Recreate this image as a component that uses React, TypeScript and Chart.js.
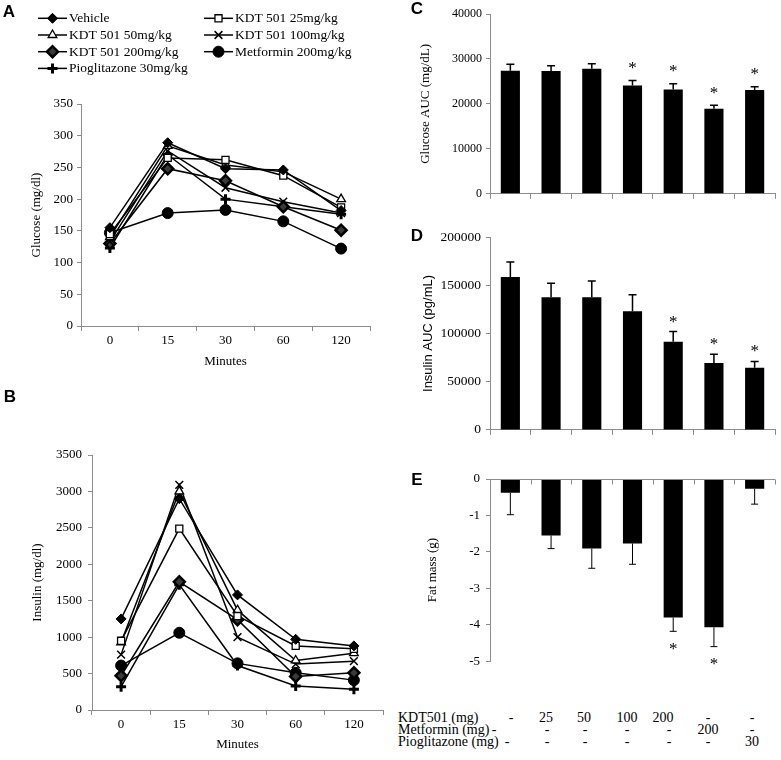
import React, { useEffect, useRef } from 'react';
import { Chart, registerables } from 'chart.js';
import { drawPoint } from 'chart.js/helpers';

Chart.register(...registerables);

const SERIF = '"Liberation Serif", "Times New Roman", serif';
const SANS = '"Liberation Sans", Arial, sans-serif';
const AXIS = '#8c8c8c';

// ---------- Data ----------
const timeLabels = ['0', '15', '30', '60', '120'];
const seriesNames = [
  'Vehicle',
  'KDT 501 25mg/kg',
  'KDT 501 50mg/kg',
  'KDT 501 100mg/kg',
  'KDT 501 200mg/kg',
  'Metformin 200mg/kg',
  'Pioglitazone 30mg/kg',
];

const glucoseVehicle = [155, 289, 248, 246, 182];
const glucoseKdt25 = [145, 265, 262, 237, 187];
const glucoseKdt50 = [140, 284, 254, 243, 200];
const glucoseKdt100 = [133, 276, 218, 196, 178];
const glucoseKdt200 = [130, 248, 229, 188, 151];
const glucoseMetformin = [147, 178, 183, 165, 122];
const glucosePioglitazone = [123, 270, 200, 188, 176];

const insulinVehicle = [1250, 2900, 1580, 970, 880];
const insulinKdt25 = [950, 2490, 1290, 880, 840];
const insulinKdt50 = [930, 3000, 1370, 680, 780];
const insulinKdt100 = [760, 3090, 1000, 630, 670];
const insulinKdt200 = [470, 1760, 1240, 460, 510];
const insulinMetformin = [610, 1060, 640, 510, 410];
const insulinPioglitazone = [320, 1720, 610, 330, 285];

const groups = ['Vehicle', 'KDT501 25', 'KDT501 50', 'KDT501 100', 'KDT501 200', 'Metformin 200', 'Pioglitazone 30'];

const glucoseAUC = [27400, 27300, 27800, 24100, 23200, 18900, 23100];
const glucoseAUCErr = [1400, 1200, 1150, 1100, 1300, 800, 700];
const glucoseAUCSig = [false, false, false, true, true, true, true];

const insulinAUC = [158500, 137500, 137500, 123000, 91500, 69300, 64500];
const insulinAUCErr = [15500, 14500, 17000, 17000, 10500, 9200, 6500];
const insulinAUCSig = [false, false, false, false, true, true, true];

const fatMass = [-0.38, -1.55, -1.91, -1.77, -3.8, -4.07, -0.27];
const fatMassErr = [0.6, 0.36, 0.54, 0.57, 0.38, 0.53, 0.42];
const fatMassSig = [false, false, false, false, true, true, false];

const tableRowLabels = ['KDT501 (mg)', 'Metformin (mg)', 'Pioglitazone (mg)'];
const tableKdt501 = ['-', '25', '50', '100', '200', '-', '-'];
const tableMetformin = ['-', '-', '-', '-', '-', '200', '-'];
const tablePioglitazone = ['-', '-', '-', '-', '-', '-', '30'];

// ---------- Styles ----------
const markerStyles = [
  { pointStyle: 'rectRot', radius: 5, bg: '#000', bw: 1 },
  { pointStyle: 'rect', radius: 5, bg: '#fff', bw: 1.3 },
  { pointStyle: 'triangle', radius: 5, bg: '#fff', bw: 1.3 },
  { pointStyle: 'crossRot', radius: 5.5, bg: '#000', bw: 1.5 },
  { pointStyle: 'rectRot', radius: 5.5, bg: '#3a3a3a', bw: 2.5 },
  { pointStyle: 'circle', radius: 5.5, bg: '#000', bw: 1 },
  { pointStyle: 'cross', radius: 5, bg: '#000', bw: 3 },
];

function lineDatasets(series: number[][]) {
  return series.map((data, i) => ({
    label: seriesNames[i],
    data,
    borderColor: '#000',
    borderWidth: 1.5,
    tension: 0,
    fill: false,
    pointStyle: markerStyles[i].pointStyle,
    pointRadius: markerStyles[i].radius,
    pointBackgroundColor: markerStyles[i].bg,
    pointBorderColor: '#000',
    pointBorderWidth: markerStyles[i].bw,
  }));
}

function yScale(o: {
  min: number; max: number; step: number; title: string; titleFamily: string;
  titleCenter: number; tickSize: number; tickPad: number; width: number;
}) {
  return {
    type: 'linear',
    min: o.min,
    max: o.max,
    afterFit: (s: any) => { s.width = o.width; },
    border: { display: true, color: AXIS, width: 1 },
    grid: { drawOnChartArea: false, drawTicks: true, tickLength: 4, color: AXIS },
    ticks: {
      stepSize: o.step,
      padding: o.tickPad,
      color: '#000',
      font: { family: SERIF, size: o.tickSize },
      callback: (v: any) => String(v),
    },
    title: {
      display: true,
      text: o.title,
      color: '#000',
      font: { family: o.titleFamily, size: 13 },
      padding: { top: o.titleCenter - 7.8, bottom: 0 },
    },
  };
}

function lineX(height: number, titleBottomPad: number) {
  return {
    type: 'category',
    offset: true,
    afterFit: (s: any) => { s.height = height; },
    border: { display: true, color: AXIS, width: 1 },
    grid: { offset: true, drawOnChartArea: false, tickLength: 5, color: AXIS },
    ticks: { padding: 2, color: '#000', font: { family: SERIF, size: 13 }, maxRotation: 0, autoSkip: false },
    title: {
      display: true,
      text: 'Minutes',
      color: '#000',
      font: { family: SERIF, size: 13 },
      padding: { top: 0, bottom: titleBottomPad },
    },
  };
}

function barX(height: number) {
  return {
    type: 'category',
    offset: true,
    afterFit: (s: any) => { s.height = height; },
    border: { display: true, color: AXIS, width: 1 },
    grid: { offset: true, drawOnChartArea: false, tickLength: 5, color: AXIS },
    ticks: { callback: () => '', autoSkip: false },
  };
}

const legendPlugin = {
  id: 'customLegend',
  afterDraw(chart: any) {
    const ctx = chart.ctx;
    const colX = [38, 204];
    const rowY0 = 18.3;
    const rowH = 16.7;
    ctx.save();
    chart.data.datasets.forEach((ds: any, i: number) => {
      const x0 = colX[i % 2];
      const y = rowY0 + Math.floor(i / 2) * rowH;
      ctx.strokeStyle = '#000';
      ctx.lineWidth = 1.5;
      ctx.beginPath();
      ctx.moveTo(x0, y);
      ctx.lineTo(x0 + 29, y);
      ctx.stroke();
      ctx.fillStyle = ds.pointBackgroundColor;
      ctx.strokeStyle = '#000';
      ctx.lineWidth = ds.pointBorderWidth;
      drawPoint(ctx, { pointStyle: ds.pointStyle, radius: ds.pointRadius, rotation: 0, borderWidth: ds.pointBorderWidth } as any, x0 + 14.5, y);
      ctx.fillStyle = '#000';
      ctx.font = `13.5px ${SERIF}`;
      ctx.textAlign = 'left';
      ctx.textBaseline = 'middle';
      ctx.fillText(ds.label, x0 + 31, y + 0.5);
    });
    ctx.restore();
  },
};

function errorBarPlugin(errs: number[], sig: boolean[], capHalf: number, lw: number, starGap: number) {
  return {
    id: 'errorBars',
    afterDatasetsDraw(chart: any) {
      const ctx = chart.ctx;
      const y = chart.scales.y;
      const meta = chart.getDatasetMeta(0);
      const vals = chart.data.datasets[0].data as number[];
      ctx.save();
      ctx.strokeStyle = '#000';
      ctx.lineWidth = lw;
      meta.data.forEach((bar: any, i: number) => {
        const v = vals[i];
        const dir = v >= 0 ? 1 : -1;
        const yv = y.getPixelForValue(v);
        const ye = y.getPixelForValue(v + dir * errs[i]);
        const x = bar.x;
        ctx.beginPath();
        ctx.moveTo(x, yv);
        ctx.lineTo(x, ye);
        ctx.moveTo(x - capHalf, ye);
        ctx.lineTo(x + capHalf, ye);
        ctx.stroke();
        if (sig[i]) {
          const size = 17;
          ctx.fillStyle = '#000';
          ctx.font = `${size}px ${SERIF}`;
          ctx.textAlign = 'center';
          ctx.textBaseline = 'alphabetic';
          const cy = dir > 0 ? ye - starGap : ye + starGap;
          ctx.fillText('*', x, cy + 0.47 * size);
        }
      });
      ctx.restore();
    },
  };
}

const zeroAxisPlugin = {
  id: 'zeroAxis',
  afterDatasetsDraw(chart: any) {
    const ctx = chart.ctx;
    const { left, right } = chart.chartArea;
    const y0 = Math.round(chart.scales.y.getPixelForValue(0)) + 0.5;
    const n = chart.data.labels.length;
    ctx.save();
    ctx.strokeStyle = AXIS;
    ctx.lineWidth = 1;
    ctx.beginPath();
    ctx.moveTo(left, y0);
    ctx.lineTo(right, y0);
    for (let i = 1; i <= n; i++) {
      const x = Math.round(left + ((right - left) * i) / n) + 0.5;
      ctx.moveTo(x, y0);
      ctx.lineTo(x, y0 + 5);
    }
    ctx.stroke();
    ctx.restore();
  },
};

const barDataset = (data: number[]) => ({
  data,
  backgroundColor: '#000',
  borderWidth: 0,
  barPercentage: 0.47,
  categoryPercentage: 1,
});

const baseOptions = {
  responsive: false,
  animation: false,
  devicePixelRatio: 1,
  plugins: { legend: { display: false }, tooltip: { enabled: false } },
};

type Box = { left: number; top: number; width: number; height: number };
const boxA: Box = { left: 0, top: 0, width: 390, height: 375 };
const boxB: Box = { left: 0, top: 380, width: 395, height: 375 };
const boxC: Box = { left: 390, top: 0, width: 391, height: 205 };
const boxD: Box = { left: 390, top: 215, width: 391, height: 228 };
const boxE: Box = { left: 390, top: 465, width: 391, height: 210 };

export default function App() {
  const refA = useRef<HTMLCanvasElement>(null);
  const refB = useRef<HTMLCanvasElement>(null);
  const refC = useRef<HTMLCanvasElement>(null);
  const refD = useRef<HTMLCanvasElement>(null);
  const refE = useRef<HTMLCanvasElement>(null);

  useEffect(() => {
    const charts: Chart[] = [];

    charts.push(new Chart(refA.current!, {
      type: 'line',
      data: {
        labels: timeLabels,
        datasets: lineDatasets([glucoseVehicle, glucoseKdt25, glucoseKdt50, glucoseKdt100, glucoseKdt200, glucoseMetformin, glucosePioglitazone]) as any,
      },
      options: {
        ...baseOptions,
        layout: { padding: { left: 0, top: 104, right: 20, bottom: 0 } },
        scales: {
          x: lineX(49, 5.2),
          y: yScale({ min: 0, max: 350, step: 50, title: 'Glucose (mg/dl)', titleFamily: SERIF, titleCenter: 37, tickSize: 13, tickPad: 4, width: 81 }),
        },
      } as any,
      plugins: [legendPlugin],
    }));

    charts.push(new Chart(refB.current!, {
      type: 'line',
      data: {
        labels: timeLabels,
        datasets: lineDatasets([insulinVehicle, insulinKdt25, insulinKdt50, insulinKdt100, insulinKdt200, insulinMetformin, insulinPioglitazone]) as any,
      },
      options: {
        ...baseOptions,
        layout: { padding: { left: 0, top: 75, right: 12, bottom: 0 } },
        scales: {
          x: lineX(45, 2.2),
          y: yScale({ min: 0, max: 3500, step: 500, title: 'Insulin (mg/dl)', titleFamily: SERIF, titleCenter: 38, tickSize: 13, tickPad: 6, width: 92 }),
        },
      } as any,
    }));

    charts.push(new Chart(refC.current!, {
      type: 'bar',
      data: { labels: groups, datasets: [barDataset(glucoseAUC)] },
      options: {
        ...baseOptions,
        layout: { padding: { left: 0, top: 14, right: 6, bottom: 0 } },
        scales: {
          x: barX(10),
          y: yScale({ min: 0, max: 40000, step: 10000, title: 'Glucose AUC (mg/dL)', titleFamily: SERIF, titleCenter: 36, tickSize: 12, tickPad: 4, width: 100 }),
        },
      } as any,
      plugins: [errorBarPlugin(glucoseAUCErr, glucoseAUCSig, 4, 1.5, 15.5)],
    }));

    charts.push(new Chart(refD.current!, {
      type: 'bar',
      data: { labels: groups, datasets: [barDataset(insulinAUC)] },
      options: {
        ...baseOptions,
        layout: { padding: { left: 0, top: 22, right: 6, bottom: 0 } },
        scales: {
          x: barX(10),
          y: yScale({ min: 0, max: 200000, step: 50000, title: 'Insulin AUC (pg/mL)', titleFamily: SANS, titleCenter: 38, tickSize: 13.5, tickPad: 5, width: 100 }),
        },
      } as any,
      plugins: [errorBarPlugin(insulinAUCErr, insulinAUCSig, 4, 1.5, 13)],
    }));

    charts.push(new Chart(refE.current!, {
      type: 'bar',
      data: { labels: groups, datasets: [barDataset(fatMass)] },
      options: {
        ...baseOptions,
        layout: { padding: { left: 0, top: 14, right: 6, bottom: 12 } },
        scales: {
          x: { type: 'category', display: false, offset: true },
          y: yScale({ min: -5, max: 0, step: 1, title: 'Fat mass (g)', titleFamily: SERIF, titleCenter: 43, tickSize: 13, tickPad: 6, width: 100 }),
        },
      } as any,
      plugins: [zeroAxisPlugin, errorBarPlugin(fatMassErr, fatMassSig, 3.5, 1, 14.5)],
    }));

    return () => { charts.forEach((c) => c.destroy()); };
  }, []);

  const canvasStyle = (b: Box): React.CSSProperties => ({
    position: 'absolute', left: b.left, top: b.top, width: b.width, height: b.height,
  });

  const letter = (t: string, cx: number, cy: number) => (
    <div key={t} style={{
      position: 'absolute', left: cx - 10, top: cy - 10, width: 20, height: 20, lineHeight: '20px',
      textAlign: 'center', fontFamily: SANS, fontWeight: 'bold', fontSize: 17, color: '#000',
    }}>{t}</div>
  );

  const tableRows = [tableKdt501, tableMetformin, tablePioglitazone];
  const tableRowY = [717.7, 730, 741.7];
  const tableColX = [
    [511, 546, 584, 627, 663, 708, 752],
    [494, 547, 585, 627, 669, 708, 752],
    [507, 547, 585, 627, 669, 708, 752],
  ];

  return (
    <div style={{ position: 'absolute', left: 0, top: 0, width: 781, height: 760, background: '#fff', overflow: 'hidden' }}>
      <canvas ref={refA} width={boxA.width} height={boxA.height} style={canvasStyle(boxA)} />
      <canvas ref={refB} width={boxB.width} height={boxB.height} style={canvasStyle(boxB)} />
      <canvas ref={refC} width={boxC.width} height={boxC.height} style={canvasStyle(boxC)} />
      <canvas ref={refD} width={boxD.width} height={boxD.height} style={canvasStyle(boxD)} />
      <canvas ref={refE} width={boxE.width} height={boxE.height} style={canvasStyle(boxE)} />
      {letter('A', 9, 12)}
      {letter('B', 10, 397)}
      {letter('C', 417, 9)}
      {letter('D', 417, 236)}
      {letter('E', 417, 480)}
      {tableRowLabels.map((lab, r) => (
        <div key={'l' + r} style={{
          position: 'absolute', left: 398, top: tableRowY[r] - 8, height: 16, lineHeight: '16px',
          fontFamily: SERIF, fontSize: 14, color: '#000', whiteSpace: 'nowrap',
        }}>{lab}</div>
      ))}
      {tableRows.map((row, r) => row.map((val, c) => (
        <div key={'v' + r + '_' + c} style={{
          position: 'absolute', left: tableColX[r][c] - 20, width: 40, top: tableRowY[r] - 8, height: 16,
          lineHeight: '16px', textAlign: 'center', fontFamily: SERIF, fontSize: 14, color: '#000',
        }}>{val}</div>
      )))}
    </div>
  );
}
